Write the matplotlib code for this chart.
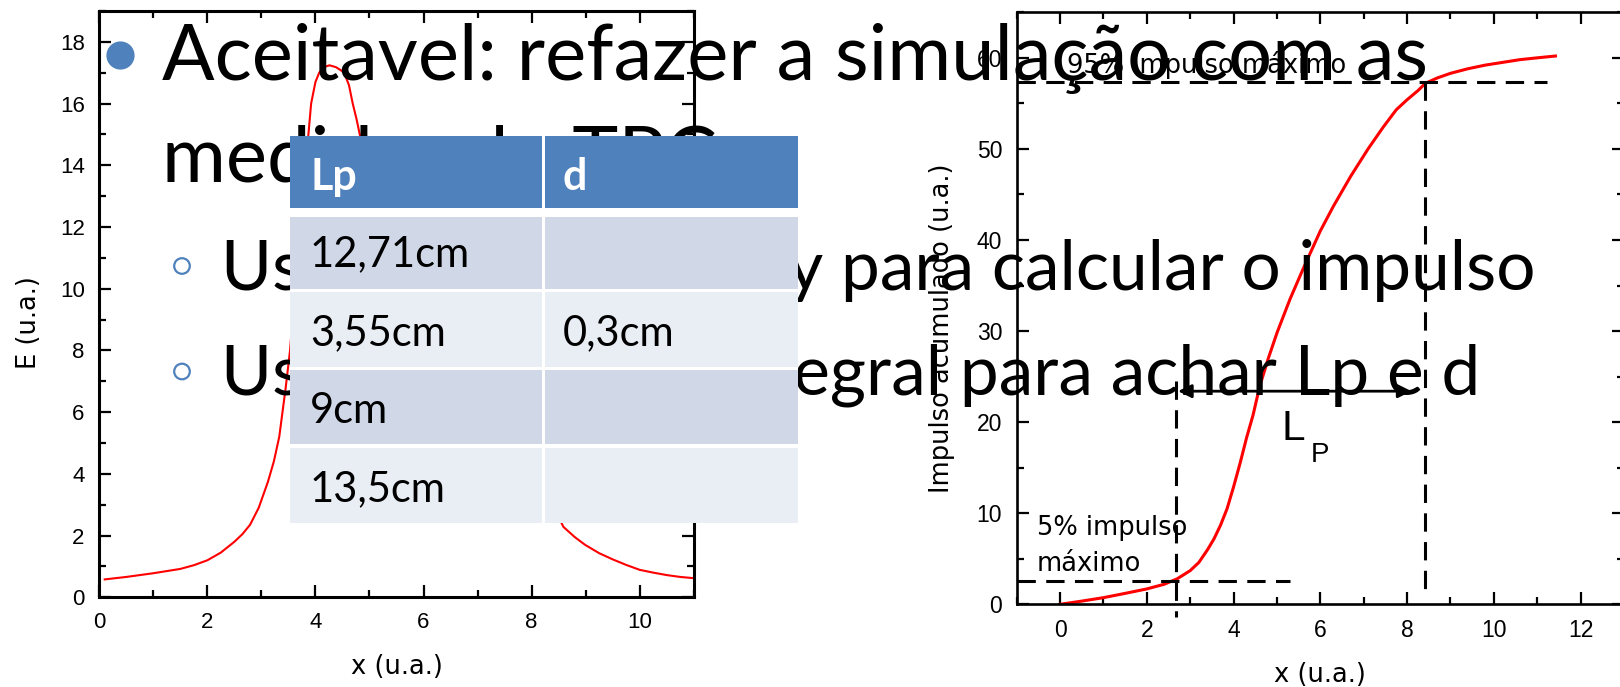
import numpy as np
import matplotlib.pyplot as plt
from matplotlib.patches import Rectangle, Circle
from matplotlib.ticker import MultipleLocator

plt.rcParams['font.family'] = ['Liberation Sans', 'DejaVu Sans']

# energy profile along x
x_e = [0.1, 0.5, 1.0, 1.5, 1.75, 2.0, 2.25, 2.5, 2.65, 2.79, 2.95, 3.12, 3.23, 3.33,
       3.45, 3.53, 3.62, 3.72, 3.8, 3.87, 3.92, 4.0, 4.07, 4.15, 4.26, 4.38, 4.47,
       4.53, 4.62, 4.69, 4.76, 4.82, 5.0, 5.5, 6.0, 6.5, 7.0, 7.5, 8.0, 8.3, 8.59,
       8.8, 8.99, 9.25, 9.5, 9.75, 10.0, 10.25, 10.5, 10.75, 11.0]
e_vals = [0.58, 0.66, 0.78, 0.92, 1.04, 1.2, 1.45, 1.8, 2.05, 2.35, 2.9, 3.74, 4.4, 5.2,
          6.8, 8.0, 10.0, 12.2, 13.8, 15.0, 16.0, 16.7, 17.0, 17.18, 17.24, 17.18, 17.08,
          17.0, 16.6, 16.0, 15.5, 15.0, 13.6, 11.8, 10.3, 9.0, 7.8, 6.3, 4.6, 3.3, 2.28,
          1.95, 1.70, 1.43, 1.23, 1.05, 0.89, 0.80, 0.72, 0.66, 0.62]

# accumulated impulse
x_imp = [0.0, 0.5, 1.0, 1.5, 2.0, 2.4, 2.7, 3.0, 3.2, 3.4, 3.55, 3.7, 3.85, 4.0, 4.15,
         4.3, 4.45, 4.6, 4.8, 5.0, 5.3, 5.6, 6.0, 6.3, 6.7, 7.1, 7.45, 7.75, 8.0, 8.25,
         8.42, 8.7, 9.0, 9.4, 9.8, 10.2, 10.6, 11.0, 11.42]
imp_vals = [0.0, 0.35, 0.73, 1.2, 1.69, 2.2, 2.8, 3.7, 4.6, 6.0, 7.2, 8.7, 10.5, 12.9,
            15.5, 18.3, 20.8, 23.9, 27.0, 29.8, 33.5, 36.8, 41.0, 43.7, 47.0, 50.0, 52.4,
            54.3, 55.4, 56.4, 57.2, 57.8, 58.3, 58.8, 59.2, 59.5, 59.8, 60.0, 60.2]
lvl_5, lvl_95 = 2.6, 57.4
x_5, x_95 = 2.68, 8.42
lp_arrow = [2.72, 8.1]
lp_y = 23.4

# slide text
line_1 = "Aceitavel: refazer a simulação com as"
line_2 = "medidas do TPC"
sub_left = ["Usar a", "Usar a"]
sub_right = ["energy para calcular o impulso", "integral para achar Lp e d"]

# table
table_head = ["Lp", "d"]
lp_col = ["12,71cm", "3,55cm", "9cm", "13,5cm"]
d_col = ["", "0,3cm", "", ""]

W, H = 1620, 687
fig = plt.figure(figsize=(W / 100, H / 100), dpi=100)


def px_axes(l, r, t, b):
    return fig.add_axes([l / W, 1 - b / H, (r - l) / W, (b - t) / H])


def style(ax, spine_lw, size):
    for s in ax.spines.values():
        s.set_linewidth(spine_lw)
    ax.tick_params(which='both', direction='in', top=True, right=True,
                   width=1.6, labelsize=size, pad=10.5)
    ax.tick_params(which='major', length=8.5)
    ax.tick_params(which='minor', length=4.8)


# left: energy
ax1 = px_axes(99.3, 693.7, 11, 597.3)
ax1.plot(x_e, e_vals, color='#FF0000', lw=1.5)
ax1.set_xlim(0, 11)
ax1.set_ylim(0, 19)
ax1.xaxis.set_major_locator(MultipleLocator(2))
ax1.xaxis.set_minor_locator(MultipleLocator(1))
ax1.yaxis.set_major_locator(MultipleLocator(2))
ax1.yaxis.set_minor_locator(MultipleLocator(1))
style(ax1, 2.2, 16)
ax1.set_xlabel('x (u.a.)', family='DejaVu Sans', fontsize=18.5, va='center')
ax1.set_ylabel('E (u.a.)', family='DejaVu Sans', fontsize=18.5, va='center')
ax1.xaxis.set_label_coords(0.5, -0.119)
ax1.yaxis.set_label_coords(-0.118, 0.468)

# right: accumulated impulse
ax2 = px_axes(1016.7, 1624, 12.3, 604.3)
ax2.plot(x_imp, imp_vals, color='#FF0000', lw=2.2)
dash = dict(color='black', lw=2.2, linestyle=(0, (6, 3.4)), clip_on=False)
ax2.plot([-1, 5.3], [lvl_5, lvl_5], **dash)
ax2.plot([x_5, x_5], [24.5, -1.4], **dash)
ax2.plot([-1, 11.23], [lvl_95, lvl_95], **dash)
ax2.plot([x_95, x_95], [lvl_95, 0.7], **dash)
ax2.annotate('', xy=(lp_arrow[0], lp_y), xytext=(lp_arrow[1], lp_y),
             arrowprops=dict(arrowstyle='<|-|>', color='black', lw=2,
                             mutation_scale=20, shrinkA=0, shrinkB=0))
ax2.text(5.10, 18.0, 'L', fontsize=30.5, va='baseline', ha='left')
ax2.text(5.77, 15.6, 'P', fontsize=20, va='baseline', ha='left')
ax2.text(0.15, 58.3, '95% impulso máximo', family='DejaVu Sans', fontsize=18.5,
         va='baseline')
ax2.text(-0.54, 7.6, '5% impulso', family='DejaVu Sans', fontsize=18.5, va='baseline')
ax2.text(-0.54, 3.69, 'máximo', family='DejaVu Sans', fontsize=18.5, va='baseline')
ax2.set_xlim(-1, 13)
ax2.set_ylim(0, 65)
ax2.xaxis.set_major_locator(MultipleLocator(2))
ax2.xaxis.set_minor_locator(MultipleLocator(1))
ax2.yaxis.set_major_locator(MultipleLocator(10))
ax2.yaxis.set_minor_locator(MultipleLocator(5))
style(ax2, 1.9, 16.5)
ax2.set_xlabel('x (u.a.)', family='DejaVu Sans', fontsize=18.5, va='center')
ax2.set_ylabel('Impulso acumulado (u.a.)', family='DejaVu Sans', fontsize=18.5,
               va='center')
ax2.xaxis.set_label_coords(0.5, -0.119)
ax2.yaxis.set_label_coords(-0.123, 0.467)

# slide layer in pixel units
ov = fig.add_axes([0, 0, 1, 1])
ov.set_xlim(0, W)
ov.set_ylim(H, 0)
ov.axis('off')
ov.patch.set_alpha(0)

blue = '#4F81BD'
ov.add_patch(Circle((120.5, 55.5), 13.4, color=blue, zorder=2))
ov.text(162, 80, line_1, family='Lato', fontsize=56, va='baseline', zorder=2)
ov.text(162, 182, line_2, family='Lato', fontsize=56, va='baseline', zorder=2)
for i, base in enumerate([289, 394.5]):
    ov.add_patch(Circle((182, base - 23), 7.8, facecolor='none', edgecolor=blue,
                        lw=1.6, zorder=2))
    ov.text(221, base, sub_left[i], family='Lato', fontsize=50, va='baseline', zorder=2)
ov.text(1536, 289, sub_right[0], family='Lato', fontsize=50, va='baseline', ha='right',
        zorder=2)
ov.text(1480, 394.5, sub_right[1], family='Lato', fontsize=50, va='baseline', ha='right',
        zorder=2)

# table: white backing shows through as cell borders
cols = [(290, 541.7), (545, 798)]
rows = [(136, 207.7), (217.3, 288.7), (292.3, 367), (370, 444.3), (448, 522.7)]
fills = [blue, '#D0D8E8', '#E9EDF4', '#D0D8E8', '#E9EDF4']
text_x = [310, 563]
base_y = [190, 266.7, 345, 423, 501]
ov.add_patch(Rectangle((cols[0][0], rows[0][0]), cols[-1][1] - cols[0][0],
                       rows[-1][1] - rows[0][0], facecolor='white', edgecolor='none',
                       zorder=2.5))
cells = [table_head] + [[a, b] for a, b in zip(lp_col, d_col)]
for r, (top, bot) in enumerate(rows):
    for c, (left, right) in enumerate(cols):
        ov.add_patch(Rectangle((left, top), right - left, bot - top,
                               facecolor=fills[r], edgecolor='none', zorder=3))
        ov.text(text_x[c], base_y[r], cells[r][c], family='Lato',
                fontsize=31 if r == 0 else 30, va='baseline', zorder=4,
                color='white' if r == 0 else 'black',
                weight='bold' if r == 0 else 'normal')

fig.savefig('out.png', dpi=100)
